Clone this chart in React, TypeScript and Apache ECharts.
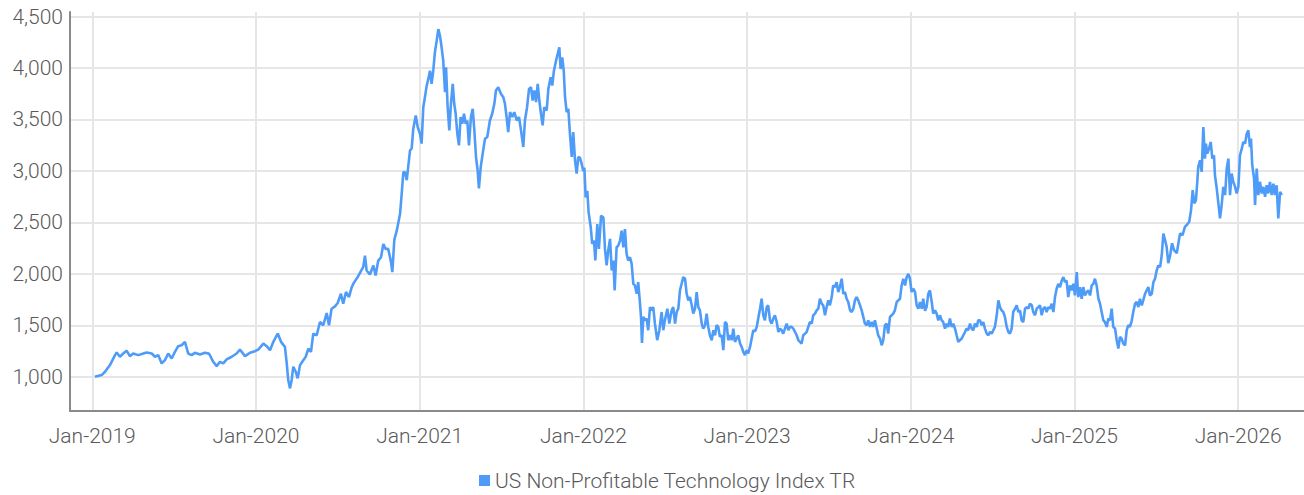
import React, { useEffect, useRef } from "react";
import * as echarts from "echarts";

// Index level, dated in decimal years
const SERIES_NAME = "US Non-Profitable Technology Index TR";

const pts2019: [number, number][] = [
  [2019.016, 1000], [2019.057, 1016], [2019.078, 1048], [2019.108, 1113], [2019.139, 1210],
  [2019.149, 1235], [2019.169, 1194], [2019.189, 1226], [2019.210, 1252], [2019.230, 1200],
  [2019.250, 1226], [2019.281, 1210], [2019.312, 1226], [2019.332, 1235], [2019.363, 1226],
  [2019.383, 1194], [2019.403, 1210], [2019.424, 1129], [2019.444, 1161], [2019.464, 1226],
  [2019.485, 1177], [2019.505, 1242], [2019.525, 1297], [2019.546, 1306], [2019.566, 1339],
  [2019.586, 1226], [2019.607, 1210], [2019.627, 1232], [2019.658, 1216], [2019.688, 1232],
  [2019.713, 1226], [2019.739, 1145], [2019.760, 1103], [2019.780, 1145], [2019.800, 1129],
  [2019.821, 1168], [2019.852, 1194], [2019.882, 1226], [2019.902, 1264], [2019.933, 1200],
  [2019.963, 1232], [2019.994, 1248],
];

const pts2020: [number, number][] = [
  [2020.014, 1264], [2020.045, 1322], [2020.065, 1297], [2020.086, 1258], [2020.106, 1339],
  [2020.133, 1420], [2020.153, 1339], [2020.177, 1290], [2020.188, 1129], [2020.197, 968],
  [2020.208, 887], [2020.218, 968], [2020.228, 1097], [2020.243, 1048], [2020.255, 984],
  [2020.269, 1113], [2020.289, 1161], [2020.304, 1194], [2020.320, 1274], [2020.336, 1242],
  [2020.350, 1419], [2020.371, 1403], [2020.391, 1532], [2020.411, 1500], [2020.432, 1619],
  [2020.446, 1500], [2020.462, 1661], [2020.483, 1684], [2020.499, 1716], [2020.519, 1806],
  [2020.533, 1710], [2020.550, 1823], [2020.568, 1774], [2020.585, 1871], [2020.600, 1919],
  [2020.621, 1968], [2020.641, 2026], [2020.655, 2065], [2020.666, 2177], [2020.676, 2032],
  [2020.696, 1994], [2020.717, 2081], [2020.731, 1984], [2020.747, 2129], [2020.764, 2161],
  [2020.778, 2290], [2020.792, 2242], [2020.808, 2242], [2020.825, 2113], [2020.833, 2016],
  [2020.845, 2329], [2020.860, 2419], [2020.880, 2581], [2020.890, 2774], [2020.900, 2984],
  [2020.910, 2990], [2020.921, 2910], [2020.930, 3039], [2020.941, 3200], [2020.951, 3216],
  [2020.961, 3410], [2020.976, 3539], [2020.988, 3426],
];

const pts2021: [number, number][] = [
  [2021.002, 3361], [2021.012, 3265], [2021.022, 3619], [2021.032, 3716], [2021.043, 3829],
  [2021.053, 3894], [2021.063, 3974], [2021.073, 3845], [2021.083, 3974], [2021.093, 4152],
  [2021.104, 4265], [2021.114, 4377], [2021.124, 4313], [2021.134, 4200], [2021.144, 4071],
  [2021.155, 3765], [2021.161, 4006], [2021.171, 3619], [2021.181, 3394], [2021.191, 3652],
  [2021.202, 3845], [2021.211, 3652], [2021.220, 3555], [2021.230, 3361], [2021.240, 3248],
  [2021.250, 3523], [2021.260, 3458], [2021.271, 3555], [2021.281, 3458], [2021.291, 3490],
  [2021.301, 3248], [2021.313, 3523], [2021.324, 3603], [2021.334, 3394], [2021.344, 3135],
  [2021.354, 3006], [2021.362, 2829], [2021.373, 3039], [2021.385, 3168], [2021.399, 3313],
  [2021.413, 3329], [2021.429, 3490], [2021.443, 3555], [2021.456, 3652], [2021.466, 3781],
  [2021.480, 3813], [2021.497, 3748], [2021.511, 3716], [2021.521, 3652], [2021.531, 3523],
  [2021.541, 3377], [2021.552, 3571], [2021.566, 3523], [2021.578, 3571], [2021.593, 3490],
  [2021.607, 3523], [2021.619, 3394], [2021.633, 3232], [2021.643, 3490], [2021.656, 3619],
  [2021.668, 3797], [2021.680, 3813], [2021.690, 3684], [2021.700, 3781], [2021.711, 3668],
  [2021.721, 3845], [2021.731, 3684], [2021.741, 3555], [2021.751, 3442], [2021.761, 3619],
  [2021.776, 3587], [2021.786, 3797], [2021.800, 3910], [2021.810, 3829], [2021.820, 3974],
  [2021.833, 4071], [2021.843, 4136], [2021.853, 4200], [2021.861, 3990], [2021.871, 4103],
  [2021.880, 3974], [2021.888, 3716], [2021.898, 3571], [2021.908, 3603], [2021.918, 3361],
  [2021.929, 3135], [2021.938, 3377], [2021.949, 3103], [2021.959, 2974], [2021.969, 3135],
  [2021.979, 3129], [2021.990, 3065], [2021.999, 3000],
];

const pts2022: [number, number][] = [
  [2022.006, 3032], [2022.014, 2742], [2022.024, 2806], [2022.032, 2597], [2022.045, 2452],
  [2022.054, 2290], [2022.065, 2323], [2022.073, 2129], [2022.085, 2484], [2022.095, 2242],
  [2022.108, 2565], [2022.122, 2548], [2022.132, 2242], [2022.142, 2081], [2022.152, 2226],
  [2022.163, 2339], [2022.173, 2032], [2022.183, 2129], [2022.191, 1839], [2022.203, 2258],
  [2022.213, 2274], [2022.224, 2323], [2022.234, 2419], [2022.244, 2258], [2022.254, 2435],
  [2022.264, 2194], [2022.274, 2129], [2022.285, 2161], [2022.295, 2097], [2022.305, 1903],
  [2022.315, 1887], [2022.326, 1806], [2022.335, 1919], [2022.346, 1710], [2022.352, 1581],
  [2022.358, 1329], [2022.366, 1581], [2022.376, 1548], [2022.387, 1565], [2022.396, 1452],
  [2022.407, 1677], [2022.417, 1645], [2022.427, 1677], [2022.437, 1516], [2022.451, 1355],
  [2022.464, 1452], [2022.478, 1629], [2022.488, 1452], [2022.498, 1548], [2022.513, 1661],
  [2022.525, 1516], [2022.539, 1645], [2022.549, 1677], [2022.560, 1516], [2022.570, 1629],
  [2022.580, 1661], [2022.590, 1839], [2022.600, 1903], [2022.610, 1968], [2022.621, 1952],
  [2022.631, 1806], [2022.641, 1742], [2022.651, 1774], [2022.662, 1694], [2022.671, 1613],
  [2022.682, 1661], [2022.692, 1823], [2022.702, 1677], [2022.712, 1645], [2022.723, 1516],
  [2022.732, 1468], [2022.743, 1500], [2022.753, 1613], [2022.763, 1484], [2022.773, 1403],
  [2022.784, 1355], [2022.794, 1452], [2022.804, 1403], [2022.814, 1500], [2022.824, 1484],
  [2022.834, 1387], [2022.845, 1403], [2022.855, 1258], [2022.865, 1532], [2022.875, 1516],
  [2022.885, 1355], [2022.896, 1403], [2022.906, 1355], [2022.916, 1468], [2022.926, 1339],
  [2022.936, 1371], [2022.946, 1403], [2022.957, 1323], [2022.967, 1290], [2022.977, 1242],
  [2022.987, 1210], [2022.998, 1258],
];

const pts2023: [number, number][] = [
  [2023.007, 1226], [2023.018, 1290], [2023.028, 1371], [2023.038, 1452], [2023.048, 1440],
  [2023.059, 1484], [2023.068, 1565], [2023.079, 1661], [2023.089, 1758], [2023.099, 1597],
  [2023.109, 1548], [2023.120, 1677], [2023.129, 1694], [2023.140, 1548], [2023.150, 1516],
  [2023.160, 1565], [2023.170, 1597], [2023.181, 1532], [2023.191, 1435], [2023.201, 1468],
  [2023.211, 1452], [2023.221, 1419], [2023.231, 1468], [2023.242, 1516], [2023.252, 1452],
  [2023.262, 1484], [2023.272, 1484], [2023.282, 1468], [2023.293, 1435], [2023.303, 1403],
  [2023.313, 1355], [2023.323, 1339], [2023.333, 1323], [2023.343, 1403], [2023.354, 1419],
  [2023.364, 1435], [2023.374, 1484], [2023.384, 1532], [2023.395, 1516], [2023.404, 1597],
  [2023.415, 1613], [2023.425, 1645], [2023.435, 1661], [2023.445, 1758], [2023.456, 1710],
  [2023.465, 1694], [2023.476, 1597], [2023.486, 1677], [2023.496, 1742], [2023.506, 1694],
  [2023.517, 1774], [2023.526, 1887], [2023.537, 1871], [2023.547, 1919], [2023.557, 1823],
  [2023.567, 1871], [2023.578, 1952], [2023.588, 1806], [2023.598, 1823], [2023.608, 1758],
  [2023.618, 1726], [2023.629, 1645], [2023.639, 1629], [2023.649, 1661], [2023.659, 1742],
  [2023.669, 1774], [2023.679, 1742], [2023.690, 1694], [2023.700, 1645], [2023.710, 1581],
  [2023.720, 1516], [2023.731, 1500], [2023.740, 1548], [2023.751, 1484], [2023.761, 1532],
  [2023.771, 1484], [2023.781, 1548], [2023.792, 1468], [2023.801, 1403], [2023.812, 1371],
  [2023.822, 1306], [2023.832, 1355], [2023.842, 1500], [2023.853, 1516], [2023.862, 1419],
  [2023.873, 1581], [2023.883, 1597], [2023.893, 1613], [2023.903, 1645], [2023.914, 1726],
  [2023.924, 1742], [2023.934, 1758], [2023.944, 1887], [2023.954, 1952], [2023.965, 1887],
  [2023.975, 1968], [2023.985, 2000], [2023.995, 1952],
];

const pts2024: [number, number][] = [
  [2024.005, 1823], [2024.015, 1855], [2024.026, 1823], [2024.036, 1694], [2024.046, 1661],
  [2024.056, 1726], [2024.067, 1661], [2024.076, 1758], [2024.087, 1640], [2024.097, 1680],
  [2024.107, 1806], [2024.117, 1839], [2024.128, 1726], [2024.137, 1613], [2024.148, 1645],
  [2024.158, 1613], [2024.168, 1548], [2024.178, 1597], [2024.189, 1548], [2024.198, 1532],
  [2024.209, 1468], [2024.219, 1516], [2024.229, 1484], [2024.239, 1565], [2024.250, 1484],
  [2024.260, 1516], [2024.270, 1468], [2024.280, 1403], [2024.290, 1339], [2024.300, 1355],
  [2024.311, 1371], [2024.321, 1403], [2024.331, 1435], [2024.341, 1468], [2024.351, 1452],
  [2024.362, 1516], [2024.372, 1468], [2024.382, 1452], [2024.392, 1516], [2024.403, 1484],
  [2024.412, 1548], [2024.423, 1548], [2024.433, 1500], [2024.443, 1532], [2024.453, 1468],
  [2024.464, 1419], [2024.473, 1403], [2024.484, 1435], [2024.494, 1419], [2024.504, 1452],
  [2024.514, 1484], [2024.525, 1597], [2024.535, 1742], [2024.545, 1677], [2024.555, 1645],
  [2024.565, 1629], [2024.575, 1581], [2024.586, 1484], [2024.596, 1435], [2024.606, 1419],
  [2024.616, 1468], [2024.626, 1629], [2024.637, 1661], [2024.647, 1694], [2024.657, 1629],
  [2024.667, 1645], [2024.677, 1548], [2024.687, 1532], [2024.698, 1661], [2024.708, 1677],
  [2024.718, 1661], [2024.728, 1710], [2024.739, 1694], [2024.748, 1629], [2024.759, 1597],
  [2024.769, 1661], [2024.779, 1677], [2024.789, 1694], [2024.800, 1597], [2024.809, 1661],
  [2024.820, 1677], [2024.830, 1629], [2024.840, 1677], [2024.850, 1661], [2024.861, 1710],
  [2024.871, 1629], [2024.881, 1774], [2024.891, 1855], [2024.901, 1903], [2024.912, 1871],
  [2024.922, 1935], [2024.932, 1968], [2024.942, 1919], [2024.952, 1935], [2024.962, 1774],
  [2024.973, 1887], [2024.983, 1839], [2024.993, 1903],
];

const pts2025: [number, number][] = [
  [2025.003, 1790], [2025.014, 2016], [2025.023, 1774], [2025.034, 1871], [2025.044, 1758],
  [2025.054, 1871], [2025.064, 1790], [2025.075, 1823], [2025.084, 1839], [2025.095, 1790],
  [2025.105, 1887], [2025.115, 1903], [2025.125, 1952], [2025.136, 1880], [2025.146, 1760],
  [2025.156, 1710], [2025.166, 1629], [2025.176, 1548], [2025.186, 1532], [2025.197, 1484],
  [2025.207, 1565], [2025.217, 1548], [2025.227, 1661], [2025.237, 1484], [2025.248, 1468],
  [2025.258, 1355], [2025.268, 1274], [2025.278, 1387], [2025.288, 1371], [2025.298, 1323],
  [2025.309, 1306], [2025.319, 1452], [2025.329, 1500], [2025.339, 1484], [2025.350, 1548],
  [2025.359, 1629], [2025.370, 1710], [2025.380, 1726], [2025.390, 1677], [2025.400, 1758],
  [2025.411, 1694], [2025.420, 1742], [2025.431, 1806], [2025.441, 1839], [2025.451, 1871],
  [2025.461, 1790], [2025.472, 1806], [2025.482, 1919], [2025.492, 1952], [2025.502, 2032],
  [2025.512, 2081], [2025.523, 2065], [2025.533, 2180], [2025.543, 2390], [2025.553, 2330],
  [2025.563, 2262], [2025.573, 2104], [2025.584, 2177], [2025.596, 2297], [2025.608, 2230],
  [2025.625, 2200], [2025.634, 2290], [2025.645, 2393], [2025.660, 2375], [2025.675, 2458],
  [2025.686, 2474], [2025.701, 2506], [2025.712, 2619], [2025.722, 2813], [2025.732, 2684],
  [2025.742, 2716], [2025.750, 2894], [2025.756, 3039], [2025.767, 3103], [2025.777, 2990],
  [2025.787, 3426], [2025.797, 3119], [2025.803, 3265], [2025.811, 3168], [2025.822, 3216],
  [2025.832, 3281], [2025.842, 3119], [2025.852, 3152], [2025.858, 2958], [2025.869, 2829],
  [2025.879, 2684], [2025.889, 2539], [2025.899, 2668], [2025.909, 2845], [2025.920, 2765],
  [2025.930, 3023], [2025.940, 3119], [2025.950, 2765], [2025.960, 2974], [2025.970, 2894],
  [2025.981, 2845], [2025.991, 2781],
];

const pts2026: [number, number][] = [
  [2026.001, 2845], [2026.011, 3152], [2026.022, 3216], [2026.031, 3281], [2026.042, 3265],
  [2026.052, 3361], [2026.062, 3394], [2026.072, 3232], [2026.078, 3313], [2026.086, 3055],
  [2026.097, 2926], [2026.103, 2668], [2026.113, 3023], [2026.123, 2765], [2026.133, 2894],
  [2026.144, 2781], [2026.154, 2845], [2026.164, 2748], [2026.174, 2861], [2026.184, 2781],
  [2026.194, 2894], [2026.205, 2765], [2026.215, 2877], [2026.225, 2765], [2026.235, 2861],
  [2026.245, 2539], [2026.256, 2797], [2026.266, 2765],
];

const Y_TICKS = [1000, 1500, 2000, 2500, 3000, 3500, 4000, 4500];
const X_YEARS = [2019, 2020, 2021, 2022, 2023, 2024, 2025, 2026];

const LINE_COLOR = "#4f9cf8";
const TEXT_COLOR = "#5a5a5a";
const FONT = "Roboto, 'Noto Sans', sans-serif";

export default function App() {
  const ref = useRef<HTMLDivElement>(null);

  useEffect(() => {
    if (!ref.current) return;
    const chart = echarts.init(ref.current, undefined, { renderer: "svg" });
    const data = [...pts2019, ...pts2020, ...pts2021, ...pts2022, ...pts2023, ...pts2024, ...pts2025, ...pts2026];

    chart.setOption({
      animation: false,
      backgroundColor: "#ffffff",
      textStyle: { fontFamily: FONT },
      grid: { left: 70, right: 0, top: 12, bottom: 84, containLabel: false, outerBoundsMode: "none" },
      legend: {
        show: true,
        left: 474,
        top: 465,
        icon: "rect",
        itemWidth: 11,
        itemHeight: 11,
        itemGap: 20,
        textStyle: { fontSize: 21, color: TEXT_COLOR, fontFamily: FONT, fontWeight: 300 },
        data: [SERIES_NAME],
      },
      xAxis: {
        type: "value",
        min: 2018.864,
        max: 2026.402,
        splitNumber: 7,
        axisLine: { show: true, lineStyle: { color: "#8a8a8a", width: 2 } },
        axisTick: { show: false },
        axisLabel: {
          color: TEXT_COLOR,
          fontSize: 21,
          fontWeight: 300,
          fontFamily: FONT,
          margin: 14,
          showMinLabel: true,
          showMaxLabel: true,
          formatter: (v: number) => {
            const r = Math.round(v);
            return Math.abs(v - r) < 1e-6 && X_YEARS.includes(r) ? `Jan-${r}` : "";
          },
        },
        splitLine: { show: true, showMinLine: false, showMaxLine: false, lineStyle: { color: "#e6e6e6", width: 2 } },
      },
      yAxis: {
        type: "value",
        min: 667,
        max: 4544,
        splitNumber: 8,
        axisLine: { show: true, lineStyle: { color: "#8a8a8a", width: 2 } },
        axisTick: { show: false },
        axisLabel: {
          color: TEXT_COLOR,
          fontSize: 21,
          fontWeight: 300,
          fontFamily: FONT,
          margin: 7,
          formatter: (v: number) => {
            const r = Math.round(v);
            return Math.abs(v - r) < 1e-6 && Y_TICKS.includes(r) ? r.toLocaleString("en-US") : "";
          },
        },
        splitLine: { show: true, showMinLine: false, showMaxLine: false, lineStyle: { color: "#e6e6e6", width: 2 } },
      },
      series: [
        {
          name: SERIES_NAME,
          type: "line",
          data,
          showSymbol: false,
          symbol: "none",
          lineStyle: { color: LINE_COLOR, width: 2.6 },
          itemStyle: { color: LINE_COLOR },
        },
      ],
    });

    return () => chart.dispose();
  }, []);

  return (
    <div
      ref={ref}
      style={{ position: "fixed", left: 0, top: 0, width: 1304, height: 495, background: "#fff" }}
    />
  );
}
